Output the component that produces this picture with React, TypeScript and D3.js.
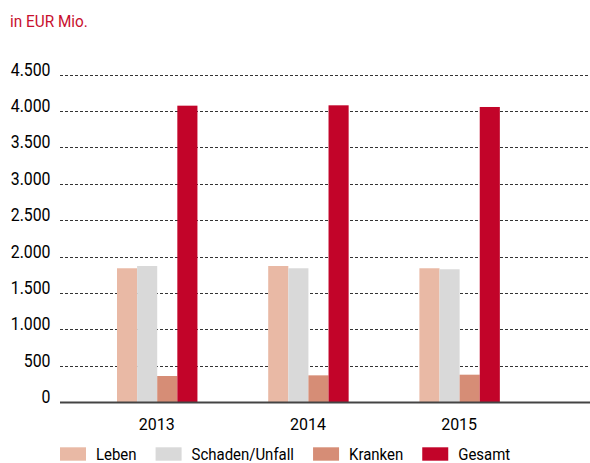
import React from "react";
import * as d3 from "d3";

const years = ["2013", "2014", "2015"];
const seriesNames = ["Leben", "Schaden/Unfall", "Kranken", "Gesamt"];
const leben = [1840, 1871, 1840];
const schaden = [1871, 1840, 1826];
const kranken = [361, 370, 379];
const gesamt = [4072, 4077, 4054];
const yTicks = [0, 500, 1000, 1500, 2000, 2500, 3000, 3500, 4000, 4500];
const colors = ["#e9b9a5", "#d9d9d9", "#d68d76", "#c20429"];

const W = 590;
const H = 463;
const FONT = "Roboto, 'Noto Sans', sans-serif";
const SX = 0.88;

function measure(text: string, size: number): number {
  const c = document.createElement("canvas").getContext("2d");
  if (!c) return text.length * size * 0.5;
  c.font = `${size}px Roboto`;
  return c.measureText(text).width;
}

export default function App() {
  const values = [leben, schaden, kranken, gesamt];
  const step = 151.2;
  const pInner = 0.468;
  const pOuter = 0.377;
  const x0 = d3
    .scaleBand<string>()
    .domain(years)
    .range([60, 60 + step * (years.length - pInner + 2 * pOuter)])
    .paddingInner(pInner)
    .paddingOuter(pOuter);
  const x1 = d3
    .scaleBand<string>()
    .domain(seriesNames)
    .range([0, x0.bandwidth()])
    .padding(0);
  const y = d3.scaleLinear().domain([0, 4500]).range([402.3, 74.5]);

  const fmt = (v: number) => d3.format(",")(v).replace(/,/g, ".");

  const legendSize = 17;
  let lx = 60;
  const legendItems = seriesNames.map((name, i) => {
    const tw = measure(name, legendSize) * SX;
    const item = { name, x: lx, color: colors[i] };
    lx += 26 + 10.5 + tw + 18.5;
    return item;
  });

  return (
    <svg width={W} height={H} style={{ position: "absolute", left: 0, top: 0 }} fontFamily={FONT}>
      <rect width={W} height={H} fill="#fff" />
      <g transform={`translate(10,26.5) scale(0.93,1)`}>
        <text x={0} y={0} fontSize={16.5} fill="#c8102e">
          in EUR Mio.
        </text>
      </g>
      {yTicks.map((t) => (
        <g key={t}>
          {t > 0 && (
            <line
              x1={60}
              x2={W}
              y1={Math.round(y(t)) + 0.5}
              y2={Math.round(y(t)) + 0.5}
              stroke="#333"
              strokeWidth={1}
              strokeDasharray="3,2"
            />
          )}
          <g transform={`translate(50.5,${y(t) + 1}) scale(${SX},1)`}>
            <text x={0} y={0} textAnchor="end" fontSize={18} fill="#000">
              {fmt(t)}
            </text>
          </g>
        </g>
      ))}
      {years.map((yr, gi) => (
        <g key={yr} transform={`translate(${x0(yr)},0)`}>
          {seriesNames.map((s, si) => (
            <rect
              key={s}
              x={x1(s)}
              y={y(values[si][gi])}
              width={x1.bandwidth()}
              height={y(0) - y(values[si][gi])}
              fill={colors[si]}
            />
          ))}
        </g>
      ))}
      <line x1={60} x2={W} y1={402.5} y2={402.5} stroke="#444" strokeWidth={2} />
      {years.map((yr) => (
        <g key={yr} transform={`translate(${(x0(yr) as number) + x0.bandwidth() / 2 - 0.5},430) scale(0.94,1)`}>
          <text x={0} y={0} textAnchor="middle" fontSize={17} fill="#000">
            {yr}
          </text>
        </g>
      ))}
      {legendItems.map((it) => (
        <g key={it.name}>
          <rect x={it.x} y={447.3} width={26} height={13.4} fill={it.color} />
          <g transform={`translate(${it.x + 36},460) scale(${SX},1)`}>
            <text x={0} y={0} fontSize={legendSize} fill="#000">
              {it.name}
            </text>
          </g>
        </g>
      ))}
    </svg>
  );
}
